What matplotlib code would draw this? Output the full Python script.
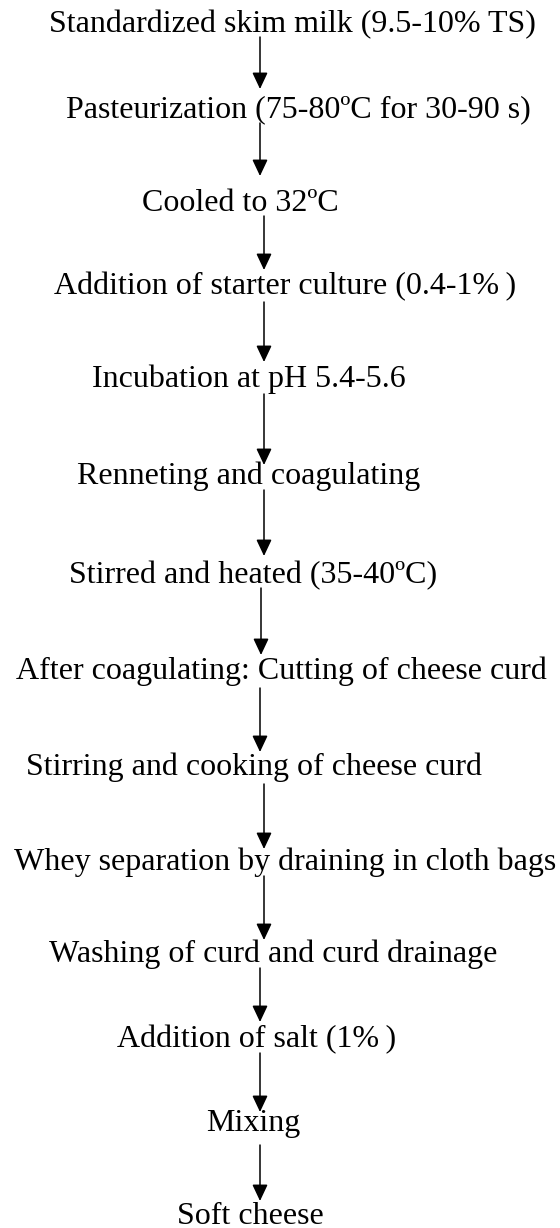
import matplotlib
matplotlib.use('Agg')
import matplotlib.pyplot as plt

# 流程步骤
STEPS = [
    'Standardized skim milk (9.5-10% TS)',
    'Pasteurization (75-80ºC for 30-90 s)',
    'Cooled to 32ºC',
    'Addition of starter culture (0.4-1%\u2009)',
    'Incubation at pH 5.4-5.6',
    'Renneting and coagulating',
    'Stirred and heated (35-40ºC)',
    'After coagulating: Cutting of cheese curd',
    'Stirring and cooking of cheese curd',
    'Whey separation by draining in cloth bags',
    'Washing of curd and curd drainage',
    'Addition of salt (1%\u2009)',
    'Mixing',
    'Soft cheese',
]

# 版面（像素坐标）
TEXT_X = [292, 298, 240, 285, 249, 249, 253, 281, 254, 285, 273, 257, 253, 250]
TEXT_Y = [32, 117, 211, 294, 387, 484, 583, 679, 775, 870, 962, 1047, 1131, 1224]
ARROW_X = [260, 260, 264, 264, 264, 264, 261, 260, 264, 264, 260, 260, 260]
ARROW_TOP = [37, 123, 216, 302, 394, 490, 588, 688, 784, 876, 968, 1053, 1145]
ARROW_TIP = [89, 176, 270, 362, 465, 556, 655, 752, 849, 940, 1022, 1112, 1201]

W, H = 560, 1228


def draw_flow(ax):
    # 文本
    for label, x, y in zip(STEPS, TEXT_X, TEXT_Y):
        ax.text(x, y, label, ha='center', va='baseline',
                fontsize=23, family=['Liberation Serif', 'DejaVu Serif'], color='black')
    # 箭头
    for x, y0, y1 in zip(ARROW_X, ARROW_TOP, ARROW_TIP):
        ax.annotate('', xy=(x, y1), xytext=(x, y0),
                    arrowprops=dict(arrowstyle='-|>,head_length=1.0,head_width=0.47',
                                    mutation_scale=10, lw=1.1, color='black',
                                    shrinkA=0, shrinkB=0))


def main():
    fig = plt.figure(figsize=(W / 100, H / 100), dpi=100)
    ax = fig.add_axes([0, 0, 1, 1])
    ax.set_xlim(0, W)
    ax.set_ylim(H, 0)
    ax.axis('off')

    draw_flow(ax)
    fig.savefig('out.png', dpi=100, facecolor='white')


if __name__ == '__main__':
    main()
